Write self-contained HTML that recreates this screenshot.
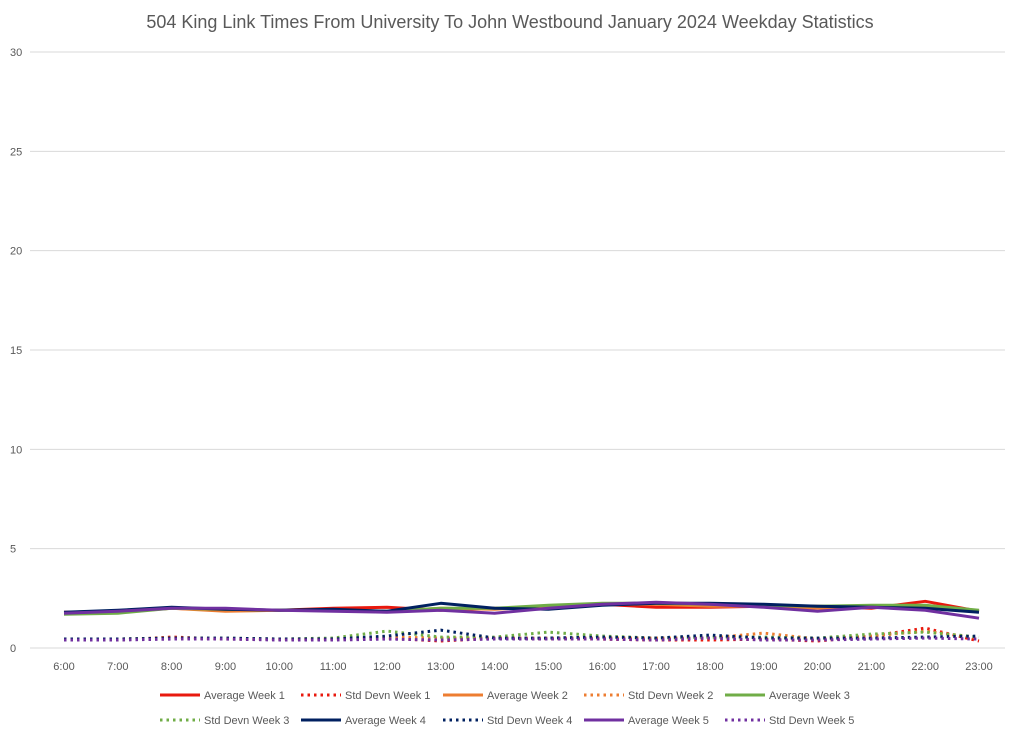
<!DOCTYPE html>
<html><head><meta charset="utf-8"><style>
body{margin:0;background:#fff;font-family:"Liberation Sans",sans-serif}
</style></head><body>
<svg id="chart" width="1024" height="739" xmlns="http://www.w3.org/2000/svg" style="display:block">
<rect width="1024" height="739" fill="#fff"/>
<text x="510" y="28" text-anchor="middle" font-size="18" fill="#595959">504 King Link Times From University To John Westbound January 2024 Weekday Statistics</text>
<g id="grid"></g><g id="axes"></g><g id="series"></g><g id="legend"></g>
</svg>
<script>
const categories=["6:00","7:00","8:00","9:00","10:00","11:00","12:00","13:00","14:00","15:00","16:00","17:00","18:00","19:00","20:00","21:00","22:00","23:00"];
const yTicks=[0,5,10,15,20,25,30];
const avgW1=[1.8,1.85,2.0,1.9,1.9,2.0,2.05,1.9,2.0,2.05,2.2,2.05,2.05,2.1,2.1,2.0,2.35,1.85];
const sdW1=[0.4,0.4,0.55,0.45,0.45,0.45,0.5,0.35,0.5,0.45,0.45,0.4,0.4,0.45,0.35,0.6,1.0,0.35];
const avgW2=[1.75,1.8,2.0,1.85,1.9,1.9,1.85,2.0,1.95,2.1,2.2,2.2,2.1,2.1,2.0,2.1,2.1,1.85];
const sdW2=[0.45,0.45,0.5,0.45,0.45,0.45,0.55,0.5,0.5,0.5,0.5,0.5,0.5,0.75,0.45,0.6,0.85,0.5];
const avgW3=[1.7,1.75,2.0,1.95,1.9,1.9,1.85,2.0,2.0,2.15,2.25,2.25,2.2,2.15,2.1,2.15,2.15,1.9];
const sdW3=[0.45,0.45,0.5,0.5,0.45,0.5,0.85,0.55,0.55,0.8,0.6,0.5,0.55,0.55,0.5,0.7,0.8,0.55];
const avgW4=[1.8,1.9,2.05,1.95,1.9,1.95,1.85,2.25,2.0,1.95,2.15,2.25,2.25,2.2,2.1,2.05,2.0,1.8];
const sdW4=[0.45,0.45,0.5,0.5,0.45,0.45,0.6,0.9,0.5,0.5,0.55,0.5,0.65,0.5,0.5,0.5,0.55,0.6];
const avgW5=[1.75,1.85,2.0,2.0,1.9,1.85,1.8,1.9,1.75,2.0,2.2,2.3,2.2,2.05,1.85,2.05,1.9,1.5];
const sdW5=[0.4,0.4,0.45,0.45,0.4,0.4,0.45,0.4,0.45,0.45,0.45,0.4,0.5,0.4,0.4,0.45,0.5,0.45];
const seriesNames=["Average Week 1","Std Devn Week 1","Average Week 2","Std Devn Week 2","Average Week 3","Std Devn Week 3","Average Week 4","Std Devn Week 4","Average Week 5","Std Devn Week 5"];
const seriesData=[avgW1,sdW1,avgW2,sdW2,avgW3,sdW3,avgW4,sdW4,avgW5,sdW5];
const colors=["#e8190e","#e8190e","#ed7d31","#ed7d31","#70ad47","#70ad47","#002060","#002060","#7030a0","#7030a0"];
const NS="http://www.w3.org/2000/svg";
const X0=64,X1=979,Y0=648,Y1=52,L=30,R=1005;
function xs(i){return X0+(X1-X0)*i/(categories.length-1);}
function ys(v){return Y0-(Y0-Y1)*v/30;}
function mk(t,a,p){const e=document.createElementNS(NS,t);for(const k in a)e.setAttribute(k,a[k]);p.appendChild(e);return e;}
const grid=document.getElementById('grid'),axes=document.getElementById('axes'),ser=document.getElementById('series'),leg=document.getElementById('legend');
yTicks.forEach(v=>{
 const l=mk('line',{x1:L,x2:R,y1:ys(v),y2:ys(v),stroke:'#d9d9d9','stroke-width':1},grid);
 
 
 const t=mk('text',{x:10,y:ys(v)+4,'font-size':11,fill:'#595959'},axes);t.textContent=v;
 
 
});
categories.forEach((c,i)=>{
 const t=mk('text',{x:xs(i),y:670,'text-anchor':'middle','font-size':11,fill:'#595959'},axes);t.textContent=c;
 
 
});
seriesData.forEach((d,s)=>{
 const dotted=s%2===1;
 const p=mk('polyline',{points:d.map((v,i)=>xs(i)+','+ys(v)).join(' '),fill:'none',stroke:colors[s],'stroke-width':3,'stroke-dasharray':dotted?'2.5 4':'none','stroke-linejoin':'round'},ser);
 
 
});
const legX=[160,301,443,584,725];
seriesNames.forEach((n,s)=>{
 const x=legX[s%5],y=s<5?695:720;const dotted=s%2===1;
 const g=mk('g',{},leg);
 
 
 mk('line',{x1:x,x2:x+40,y1:y,y2:y,stroke:colors[s],'stroke-width':3,'stroke-dasharray':dotted?'2.5 4':'none'},g);
 const t=mk('text',{x:x+44,y:y+4,'font-size':11,fill:'#595959'},g);t.textContent=n;
});
</script>
</body></html>
